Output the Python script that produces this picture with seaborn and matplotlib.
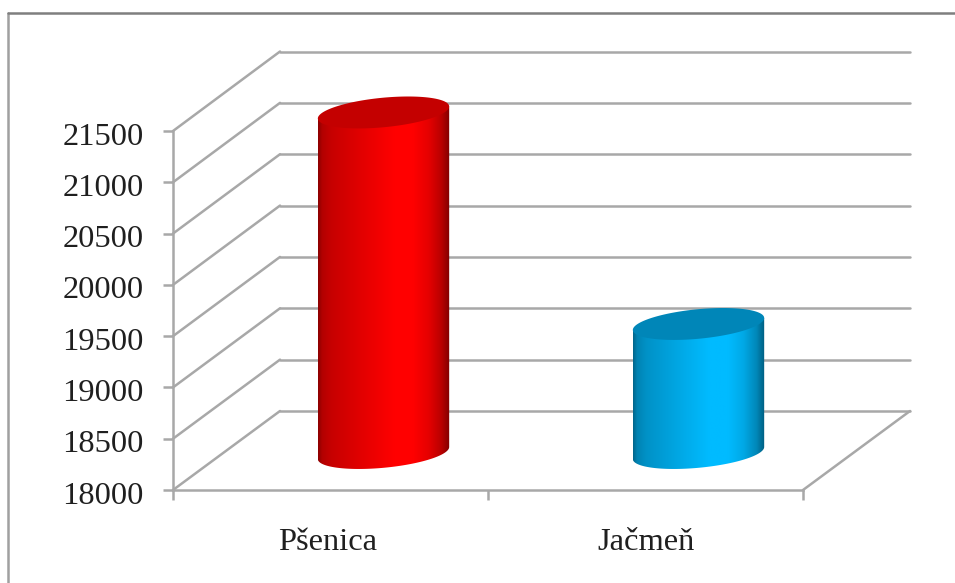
import numpy as np
import pandas as pd
import matplotlib
matplotlib.use("Agg")
import matplotlib.pyplot as plt
import seaborn as sns
from matplotlib.colors import LinearSegmentedColormap
from matplotlib.lines import Line2D
from matplotlib.patches import ConnectionPatch, Polygon
from matplotlib.transforms import ScaledTranslation

categories = ["Pšenica", "Jačmeň"]
values = [21320, 19258]
y_ticks = [18000, 18500, 19000, 19500, 20000, 20500, 21000, 21500]

bar_colors = ["#FF0000", "#00BBFF"]
top_colors = ["#C40000", "#0086B8"]
grid_color = "#A8A8A8"
text_color = "#1F1F1F"
W, H = 955, 583
FS = 23.4
LW = 1.8

sns.set_style("white")
plt.rcParams["font.family"] = ["Liberation Serif", "DejaVu Serif"]

fig = plt.figure(figsize=(W / 100, H / 100), dpi=100, facecolor="white")


def make_axes(left, bottom_y, width, height):
    return fig.add_axes([left / W, (H - bottom_y) / H, width / W, height / H])


# Back wall, front plane, and the bar plane halfway through the depth
back = make_axes(280, 411, 630, 359.5)
front = make_axes(173, 490, 630, 359)
bars = make_axes(226, 453, 630, 359)
for a in (back, front, bars):
    a.set_xlim(-0.5, 1.5)
    a.set_ylim(y_ticks[0], y_ticks[-1])
    a.patch.set_visible(False)

back.set_yticks(y_ticks)
back.set_xticks([])
back.tick_params(left=False, labelleft=False)
back.grid(axis="y", color=grid_color, lw=LW)
for gl in back.get_ygridlines():
    gl.set_clip_on(False)
sns.despine(ax=back, left=True, bottom=True)

front.set_yticks(y_ticks)
front.set_xticks([-0.5, 0.5, 1.5])
front.set_xticklabels([])
front.set_xticks([0, 1], minor=True)
front.set_xticklabels(categories, minor=True, fontsize=FS, color=text_color)
front.tick_params(axis="y", direction="out", length=7, width=LW, color=grid_color,
                  left=True, pad=14, labelsize=FS, labelcolor=text_color)
front.tick_params(axis="x", which="major", direction="out", length=7, width=LW,
                  color=grid_color, bottom=True)
front.tick_params(axis="x", which="minor", length=0, bottom=False, pad=27)
sns.despine(ax=front)
for s in ("left", "bottom"):
    front.spines[s].set_color(grid_color)
    front.spines[s].set_linewidth(LW)
for lab in front.get_yticklabels():
    lab.set_transform(lab.get_transform() + ScaledTranslation(0, -2.5 / 100, fig.dpi_scale_trans))
pl = front.get_xticklabels(minor=True)[0]
pl.set_transform(pl.get_transform() + ScaledTranslation(-2.5 / 100, 0, fig.dpi_scale_trans))
front.set_xlim(-0.5, 1.5)
front.set_ylim(y_ticks[0], y_ticks[-1])

# Diagonals from the front plane to the back wall
for v in y_ticks:
    fig.add_artist(ConnectionPatch((-0.5, v), (-0.5, v), coordsA=front.transData,
                                   coordsB=back.transData, color=grid_color, lw=LW))
fig.add_artist(ConnectionPatch((1.5, y_ticks[0]), (1.5, y_ticks[0]), coordsA=front.transData,
                               coordsB=back.transData, color=grid_color, lw=LW))

# Bars
df = pd.DataFrame({"crop": categories, "value": values})
BAR_W = 0.417
sns.barplot(data=df, x="crop", y="value", hue="crop", palette=bar_colors, width=BAR_W,
            legend=False, ax=bars, saturation=1)
bars.set_xlim(-0.5, 1.5)
bars.set_ylim(y_ticks[0], y_ticks[-1])
bars.axis("off")

unit_per_px = (y_ticks[-1] - y_ticks[0]) / 359
shear = 6.0 * unit_per_px
semi = 14.8 * unit_per_px
shade = np.array([0.55, 0.70, 0.78, 0.85, 0.92, 1.0, 1.0, 0.90, 0.72, 0.50])
stops = np.array([0.0, 0.03, 0.10, 0.25, 0.40, 0.58, 0.72, 0.84, 0.94, 1.0])


def cap(cx, level, t):
    return np.column_stack([cx + BAR_W / 2 * np.cos(t),
                            level + shear * np.cos(t) + semi * np.sin(t)])


for i, (v, c, tc) in enumerate(zip(values, bar_colors, top_colors)):
    rgb = np.array(matplotlib.colors.to_rgb(c))
    cmap = LinearSegmentedColormap.from_list(
        f"c{i}", [(s, tuple(rgb * m)) for s, m in zip(stops, shade)])
    low = cap(i, y_ticks[0], np.linspace(np.pi, 2 * np.pi, 80))
    body = np.vstack([[[i - BAR_W / 2, v - shear]], low, [[i + BAR_W / 2, v + shear]]])
    clip = Polygon(body, closed=True, transform=bars.transData)
    im = bars.imshow(np.linspace(0, 1, 256)[None, :], cmap=cmap, aspect="auto",
                     extent=(i - BAR_W / 2, i + BAR_W / 2, y_ticks[0] - 3 * semi, v + 3 * semi),
                     zorder=3)
    im.set_clip_path(clip)
    im.set_clip_box(fig.bbox)
    bars.add_patch(Polygon(cap(i, v, np.linspace(0, 2 * np.pi, 160)), closed=True,
                           facecolor=tc, edgecolor="none", zorder=4, clip_on=False))
    bars.patches[i].set_visible(False)
bars.set_xlim(-0.5, 1.5)
bars.set_ylim(y_ticks[0], y_ticks[-1])

# Picture frame: only the top and left edges fall inside the image
frame = "#7F7F7F"
fig.add_artist(Line2D([8 / W, 8 / W], [0, (H - 13) / H], color="#A0A0A0", lw=LW,
                      transform=fig.transFigure))
fig.add_artist(Line2D([8 / W, 1], [(H - 13) / H, (H - 13) / H], color=frame, lw=LW,
                      transform=fig.transFigure))

fig.savefig("out.png", dpi=100, facecolor="white")
